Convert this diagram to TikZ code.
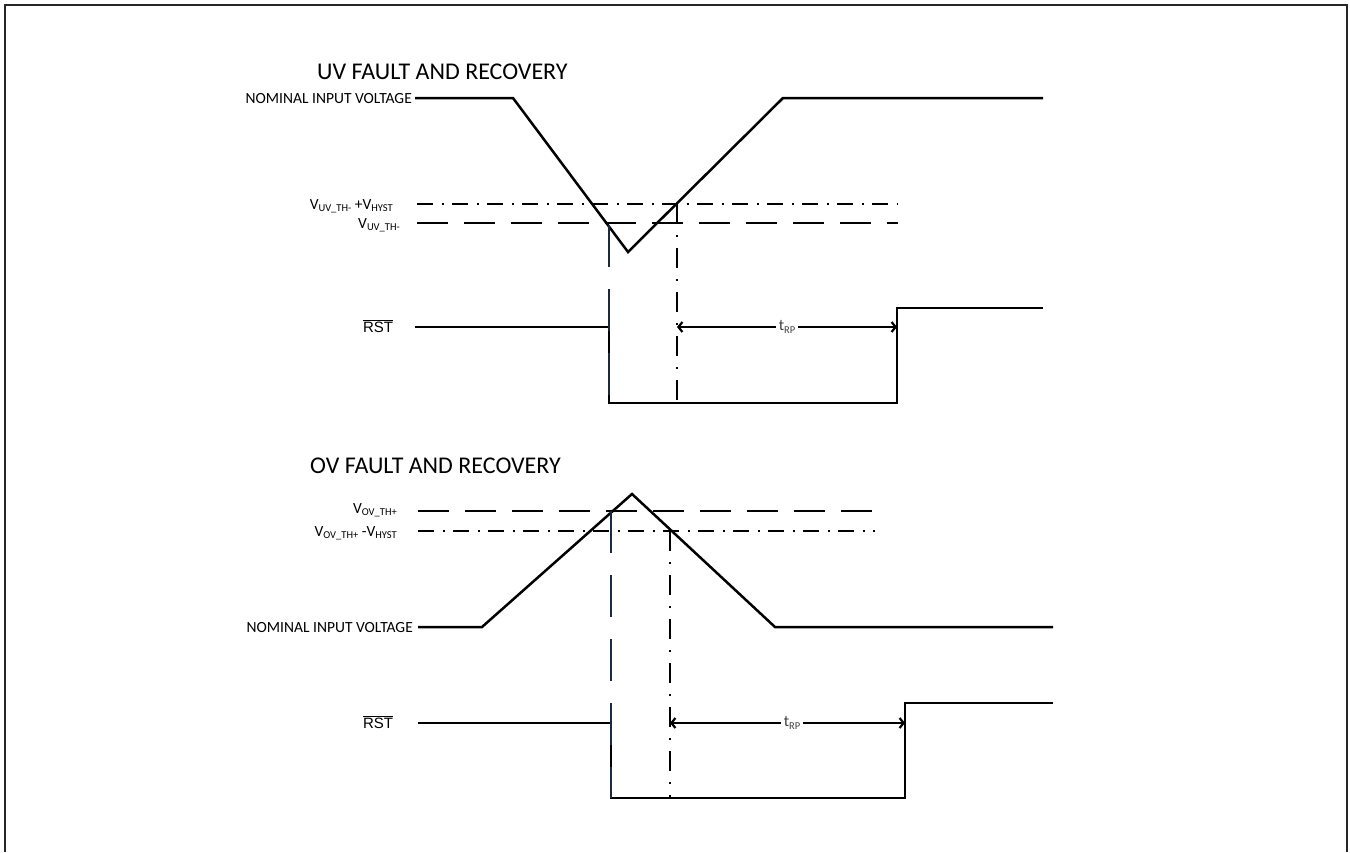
\documentclass[tikz,border=0pt]{standalone}
\usepackage{fontspec}
\setmainfont{Carlito}
\newfontfamily\arialfont{Liberation Sans}
\usetikzlibrary{arrows.meta}
\definecolor{navy}{HTML}{1B2A41}
\definecolor{tgray}{HTML}{404040}
\newcommand\vsub[1]{\raisebox{-0.3ex}{\fontsize{10.5}{10.5}\selectfont #1}}
\begin{document}
\begin{tikzpicture}[x=1pt,y=-1pt,
  wave/.style={line width=2.5pt, line join=miter},
  thdash/.style={line width=2pt, dash pattern=on 31pt off 16pt},
  thdashdot/.style={line width=2pt, dash pattern=on 16pt off 8.5pt on 2pt off 8.5pt},
  vdash/.style={line width=2.2pt, draw=navy, dash pattern=on 42pt off 22pt},
  vdashdot/.style={line width=2.2pt, dash pattern=on 20pt off 11pt on 2pt off 11pt},
  lbl/.style={font=\fontsize{15.5}{15.5}\selectfont, inner sep=0pt, anchor=base east},
  ttl/.style={font=\fontsize{24}{24}\selectfont, inner sep=0pt, anchor=base west},
  rst/.style={font=\arialfont\fontsize{15}{15}\selectfont, inner sep=0pt, anchor=base},
  dim/.style={line width=2.2pt, {Straight Barb[length=4pt,width=10pt]}-{Straight Barb[length=4pt,width=10pt]}},
  tlab/.style={fill=white, inner sep=3pt, text=tgray, font=\fontsize{16}{16}\selectfont}]
\useasboundingbox (0,0) rectangle (1350,852);
% frame
\draw[line width=1.5pt, draw=black!85] (5,852) -- (5,5) -- (1347,5) -- (1347,852);

% ---------- UV section ----------
\node[ttl] (uvtitle) at (317,79) {UV FAULT AND RECOVERY};
\node[lbl] (uvnom) at (412,103) {NOMINAL INPUT VOLTAGE};
\node[lbl] (uvhyst) at (393,209) {V\vsub{UV\_TH-} +V\vsub{HYST}};
\node[lbl] (uvth) at (400,228) {V\vsub{UV\_TH-}};
\node[rst] (uvrst) at (378,332) {$\overline{\mbox{RST}}$};

\coordinate (uvn0) at (415,98);
\coordinate (uvn1) at (513,98);
\coordinate (uvmin) at (628,252);
\coordinate (uvn2) at (783,98);
\coordinate (uvn3) at (1043,98);
\draw[wave] (uvn0) -- (uvn1) -- (uvmin) -- (uvn2) -- (uvn3);

\coordinate (uvh0) at (417,204);
\coordinate (uvh1) at (898,204);
\coordinate (uvt0) at (417,223);
\coordinate (uvt1) at (898,223);
\draw[thdashdot] (uvh0) -- (uvh1);
\draw[thdash] (uvt0) -- (uvt1);

\coordinate (uvr0) at (415,327);
\coordinate (uvr1) at (609,327);
\coordinate (uvr2) at (609,403);
\coordinate (uvr3) at (897,403);
\coordinate (uvr4) at (897,308);
\coordinate (uvr5) at (1043,308);
\draw[wave] (uvr0) -- (uvr1) -- (uvr2) -- (uvr3) -- (uvr4) -- (uvr5);

\coordinate (uvv0) at (609,225);
\draw[vdash] (uvv0) -- (uvr2);
\coordinate (uvd0) at (677,204);
\coordinate (uvd1) at (677,403);
\draw[vdashdot] (uvd0) -- (uvd1);

\coordinate (uva0) at (677,327);
\coordinate (uva1) at (897,327);
\draw[dim] (uva0) -- (uva1);
\node[tlab] (uvtrp) at (787,327) {t\vsub{RP}};

% ---------- OV section ----------
\node[ttl] (ovtitle) at (310,473) {OV FAULT AND RECOVERY};
\node[lbl] (ovth) at (397,513) {V\vsub{OV\_TH+}};
\node[lbl] (ovhyst) at (397,536) {V\vsub{OV\_TH+} -V\vsub{HYST}};
\node[lbl] (ovnom) at (413,632) {NOMINAL INPUT VOLTAGE};
\node[rst] (ovrst) at (378,728) {$\overline{\mbox{RST}}$};

\coordinate (ovt0) at (418,511);
\coordinate (ovt1) at (875,511);
\coordinate (ovh0) at (418,531);
\coordinate (ovh1) at (875,531);
\draw[thdash] (ovt0) -- (ovt1);
\draw[thdashdot] (ovh0) -- (ovh1);

\coordinate (ovn0) at (418,627);
\coordinate (ovn1) at (482,627);
\coordinate (ovmax) at (632,494);
\coordinate (ovn2) at (775,627);
\coordinate (ovn3) at (1053,627);
\draw[wave] (ovn0) -- (ovn1) -- (ovmax) -- (ovn2) -- (ovn3);

\coordinate (ovr0) at (418,723);
\coordinate (ovr1) at (611,723);
\coordinate (ovr2) at (611,798);
\coordinate (ovr3) at (905,798);
\coordinate (ovr4) at (905,703);
\coordinate (ovr5) at (1053,703);
\draw[wave] (ovr0) -- (ovr1) -- (ovr2) -- (ovr3) -- (ovr4) -- (ovr5);

\coordinate (ovv0) at (611,511);
\draw[vdash] (ovv0) -- (ovr2);
\coordinate (ovd0) at (670,531);
\coordinate (ovd1) at (670,798);
\draw[vdashdot] (ovd0) -- (ovd1);

\coordinate (ova0) at (670,723);
\coordinate (ova1) at (905,723);
\draw[dim] (ova0) -- (ova1);
\node[tlab] (ovtrp) at (792,723) {t\vsub{RP}};
\end{tikzpicture}
\end{document}
